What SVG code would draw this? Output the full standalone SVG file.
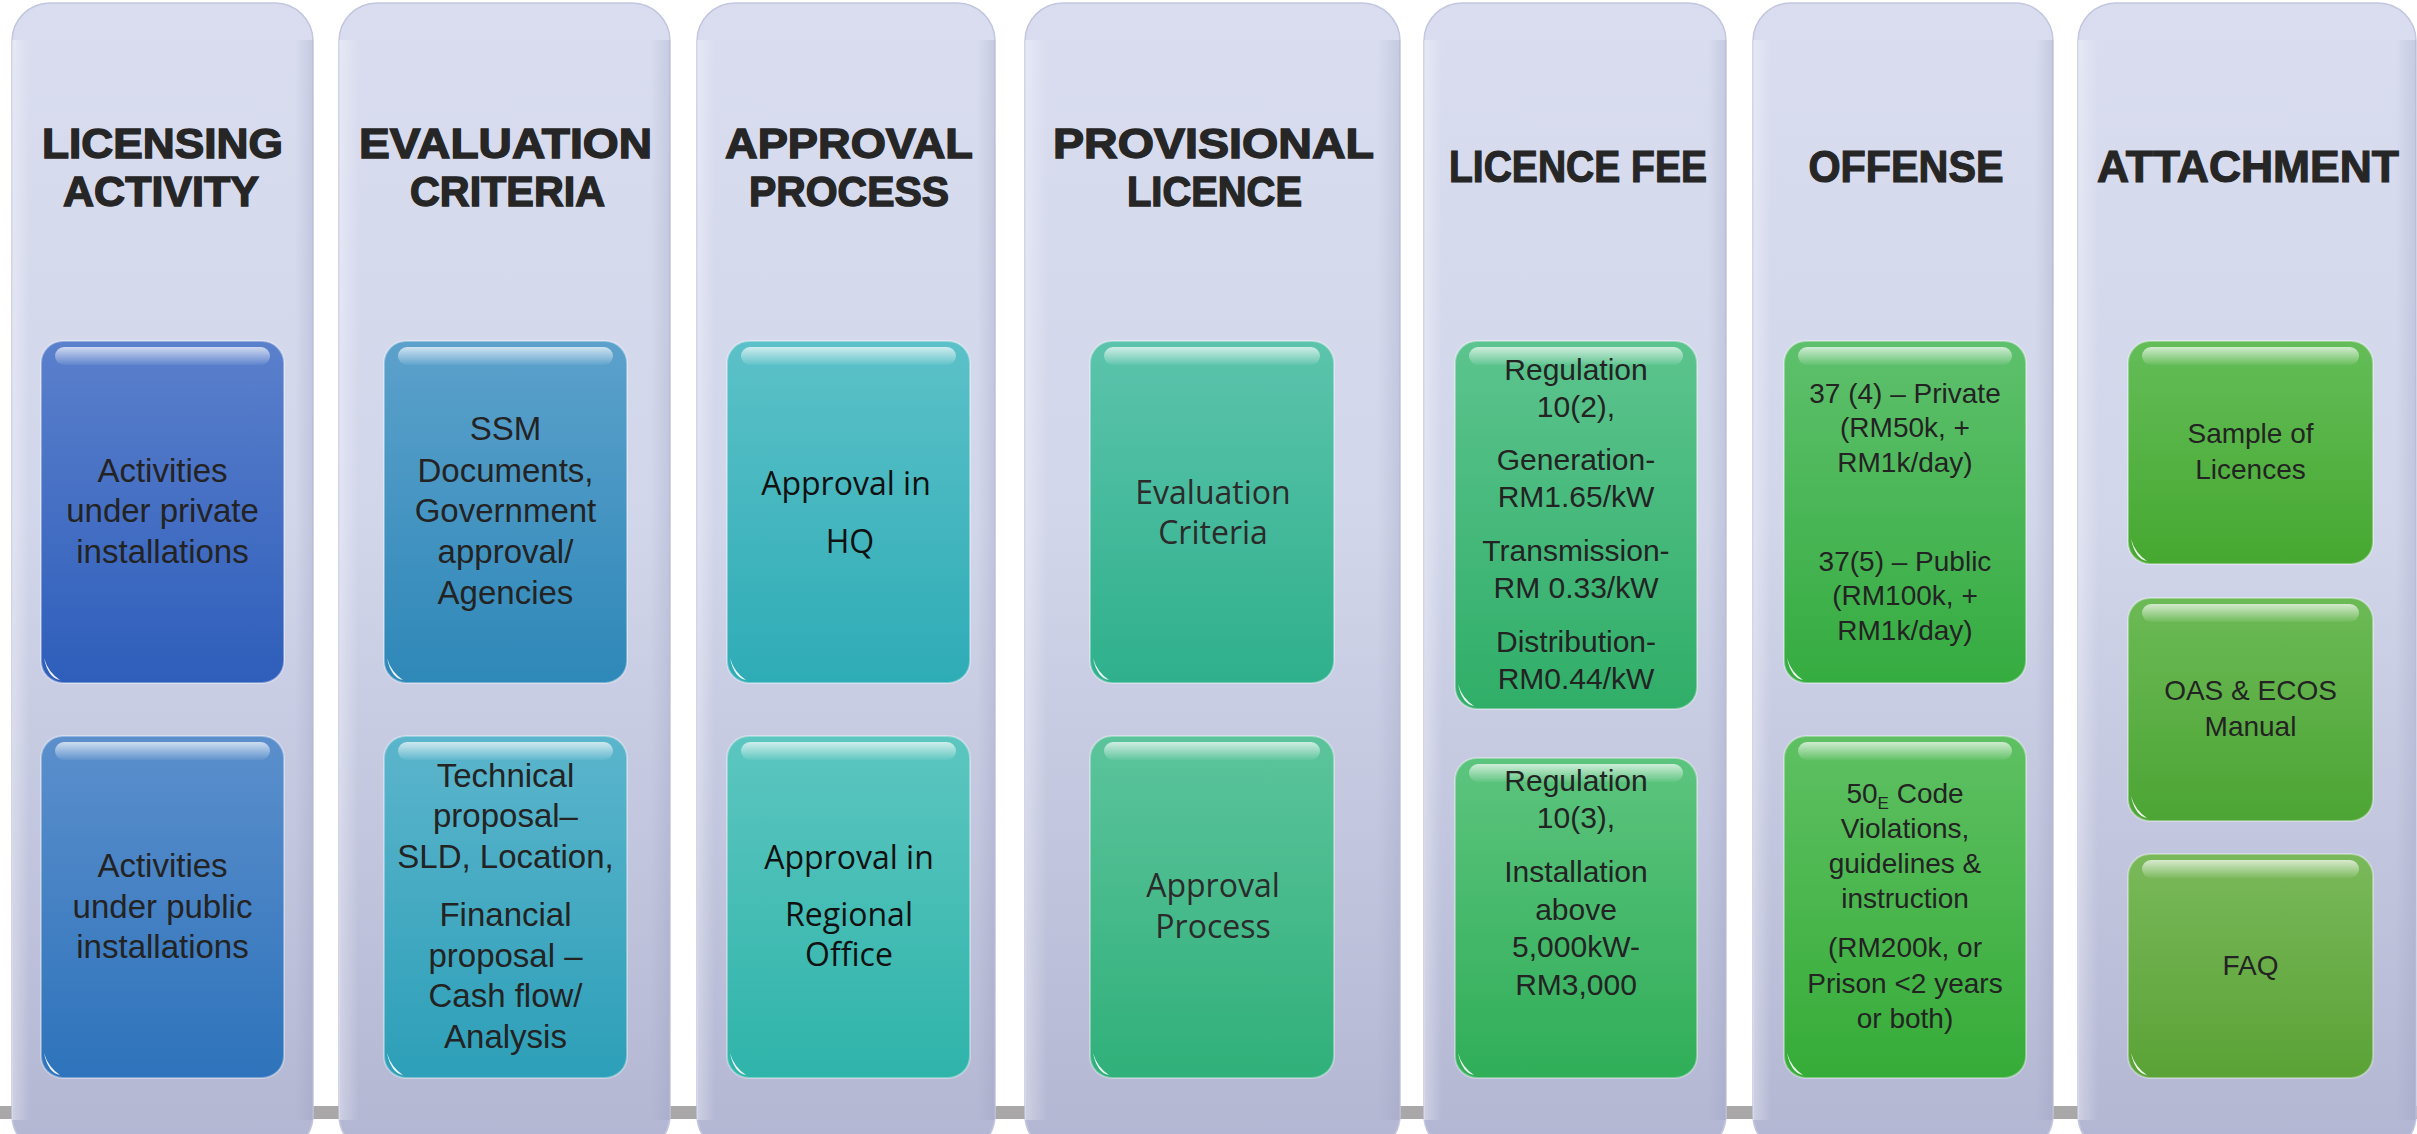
<svg xmlns="http://www.w3.org/2000/svg" width="2417" height="1134" viewBox="0 0 2417 1134">
<defs>
<linearGradient id="colg" x1="0" y1="0" x2="0" y2="1">
<stop offset="0" stop-color="#d9ddef"/><stop offset="0.45" stop-color="#d2d6ea"/><stop offset="1" stop-color="#b2b6d2"/>
</linearGradient>
<linearGradient id="colEdge" x1="0" y1="0" x2="1" y2="0">
<stop offset="0" stop-color="#ffffff" stop-opacity="0.35"/><stop offset="0.06" stop-color="#ffffff" stop-opacity="0"/><stop offset="0.94" stop-color="#8f93b5" stop-opacity="0"/><stop offset="1" stop-color="#8f93b5" stop-opacity="0.25"/>
</linearGradient>
<linearGradient id="gloss" x1="0" y1="0" x2="0" y2="1">
<stop offset="0" stop-color="#ffffff" stop-opacity="0.7"/><stop offset="1" stop-color="#ffffff" stop-opacity="0.05"/>
</linearGradient>
<linearGradient id="g11" x1="0" y1="0" x2="0" y2="1"><stop offset="0" stop-color="#5b80cc"/><stop offset="1" stop-color="#2e5ebb"/></linearGradient>
<linearGradient id="g12" x1="0" y1="0" x2="0" y2="1"><stop offset="0" stop-color="#5b8fcc"/><stop offset="1" stop-color="#2e73bb"/></linearGradient>
<linearGradient id="g21" x1="0" y1="0" x2="0" y2="1"><stop offset="0" stop-color="#5ca1cc"/><stop offset="1" stop-color="#2e88b8"/></linearGradient>
<linearGradient id="g22" x1="0" y1="0" x2="0" y2="1"><stop offset="0" stop-color="#5bb5cc"/><stop offset="1" stop-color="#2d9fb8"/></linearGradient>
<linearGradient id="g31" x1="0" y1="0" x2="0" y2="1"><stop offset="0" stop-color="#5cc1c8"/><stop offset="1" stop-color="#2eacb6"/></linearGradient>
<linearGradient id="g32" x1="0" y1="0" x2="0" y2="1"><stop offset="0" stop-color="#5cc6c0"/><stop offset="1" stop-color="#2fb4aa"/></linearGradient>
<linearGradient id="g41" x1="0" y1="0" x2="0" y2="1"><stop offset="0" stop-color="#5cc4ac"/><stop offset="1" stop-color="#2fb08c"/></linearGradient>
<linearGradient id="g42" x1="0" y1="0" x2="0" y2="1"><stop offset="0" stop-color="#5cc49c"/><stop offset="1" stop-color="#30b07a"/></linearGradient>
<linearGradient id="g51" x1="0" y1="0" x2="0" y2="1"><stop offset="0" stop-color="#5cc48e"/><stop offset="1" stop-color="#30ae68"/></linearGradient>
<linearGradient id="g52" x1="0" y1="0" x2="0" y2="1"><stop offset="0" stop-color="#5cc47e"/><stop offset="1" stop-color="#30ae58"/></linearGradient>
<linearGradient id="g61" x1="0" y1="0" x2="0" y2="1"><stop offset="0" stop-color="#5ec06c"/><stop offset="1" stop-color="#35ac40"/></linearGradient>
<linearGradient id="g62" x1="0" y1="0" x2="0" y2="1"><stop offset="0" stop-color="#5ec062"/><stop offset="1" stop-color="#36ac38"/></linearGradient>
<linearGradient id="g71" x1="0" y1="0" x2="0" y2="1"><stop offset="0" stop-color="#64bd58"/><stop offset="1" stop-color="#46a830"/></linearGradient>
<linearGradient id="g72" x1="0" y1="0" x2="0" y2="1"><stop offset="0" stop-color="#6cba56"/><stop offset="1" stop-color="#4ca534"/></linearGradient>
<linearGradient id="g73" x1="0" y1="0" x2="0" y2="1"><stop offset="0" stop-color="#7ab95a"/><stop offset="1" stop-color="#5aa236"/></linearGradient>
</defs>
<style>
.col{fill:url(#colg);stroke:#c3c7de;stroke-width:1.5}
.coledge{fill:url(#colEdge)}
.head{font-family:"Liberation Sans",Arial,sans-serif;font-weight:bold;font-size:42px;fill:#262626;stroke:#262626;stroke-width:1.4;text-anchor:middle}
.head1{font-family:"Liberation Sans",Arial,sans-serif;font-weight:bold;font-size:45px;fill:#262626;stroke:#262626;stroke-width:1.2;text-anchor:middle}
.box{stroke:#ffffff;stroke-opacity:0.35;stroke-width:2}
.gl{fill:url(#gloss)}
.spot{fill:#ffffff;opacity:0.9}
.t{font-family:"Liberation Sans",Arial,sans-serif;font-size:33px;fill:#232323;text-anchor:middle}
.t30{font-family:"Liberation Sans",Arial,sans-serif;font-size:30px;fill:#232323;text-anchor:middle}
.t28{font-family:"Liberation Sans",Arial,sans-serif;font-size:28px;fill:#232323;text-anchor:middle}
.s{font-family:"Open Sans","DejaVu Sans",sans-serif;font-size:32px;fill:#111111;text-anchor:middle}
.s2{font-family:"Open Sans","DejaVu Sans",sans-serif;font-size:32px;fill:#2b2b2b;text-anchor:middle}
</style>
<rect x="0" y="0" width="2417" height="1134" fill="#ffffff"/>
<rect x="0" y="1106" width="2417" height="13" fill="#a9a7a7"/>

<g id="columns">
<g id="col-licensing"><rect class="col" x="12" y="3" width="301" height="1150" rx="38"/><rect class="coledge" x="12" y="40" width="301" height="1080"/><text class="head" x="162.5" y="158" textLength="241" lengthAdjust="spacingAndGlyphs">LICENSING</text><text class="head" x="161" y="206" textLength="196" lengthAdjust="spacingAndGlyphs">ACTIVITY</text></g>
<g id="col-evaluation"><rect class="col" x="339" y="3" width="331" height="1150" rx="38"/><rect class="coledge" x="339" y="40" width="331" height="1080"/><text class="head" x="505.5" y="158" textLength="293" lengthAdjust="spacingAndGlyphs">EVALUATION</text><text class="head" x="507.5" y="206" textLength="195" lengthAdjust="spacingAndGlyphs">CRITERIA</text></g>
<g id="col-approval"><rect class="col" x="697" y="3" width="298" height="1150" rx="38"/><rect class="coledge" x="697" y="40" width="298" height="1080"/><text class="head" x="849" y="158" textLength="248" lengthAdjust="spacingAndGlyphs">APPROVAL</text><text class="head" x="849" y="206" textLength="200" lengthAdjust="spacingAndGlyphs">PROCESS</text></g>
<g id="col-provisional"><rect class="col" x="1025" y="3" width="375" height="1150" rx="38"/><rect class="coledge" x="1025" y="40" width="375" height="1080"/><text class="head" x="1213.5" y="158" textLength="321" lengthAdjust="spacingAndGlyphs">PROVISIONAL</text><text class="head" x="1214.5" y="206" textLength="175" lengthAdjust="spacingAndGlyphs">LICENCE</text></g>
<g id="col-fee"><rect class="col" x="1424" y="3" width="302" height="1150" rx="38"/><rect class="coledge" x="1424" y="40" width="302" height="1080"/><text class="head1" x="1578" y="182" textLength="258" lengthAdjust="spacingAndGlyphs">LICENCE FEE</text></g>
<g id="col-offense"><rect class="col" x="1753" y="3" width="300" height="1150" rx="38"/><rect class="coledge" x="1753" y="40" width="300" height="1080"/><text class="head1" x="1906" y="182" textLength="195" lengthAdjust="spacingAndGlyphs">OFFENSE</text></g>
<g id="col-attachment"><rect class="col" x="2078" y="3" width="338" height="1150" rx="38"/><rect class="coledge" x="2078" y="40" width="338" height="1080"/><text class="head1" x="2248" y="182" textLength="302" lengthAdjust="spacingAndGlyphs">ATTACHMENT</text></g>
</g>

<g id="connectors"></g>

<g id="nodes">
<g id="n-private">
<rect class="box" x="41" y="341" width="243" height="342" rx="22" fill="url(#g11)"/>
<rect class="gl" x="55" y="347" width="215" height="18" rx="9"/>
<path class="spot" d="M44 658 q4 14 16 22 q-12 -2 -16 -22z"/>
<text class="t" x="162.5" y="482">Activities</text><text class="t" x="162.5" y="522">under private</text><text class="t" x="162.5" y="563">installations</text>
</g>
<g id="n-public">
<rect class="box" x="41" y="736" width="243" height="342" rx="22" fill="url(#g12)"/>
<rect class="gl" x="55" y="742" width="215" height="18" rx="9"/>
<path class="spot" d="M44 1053 q4 14 16 22 q-12 -2 -16 -22z"/>
<text class="t" x="162.5" y="877">Activities</text><text class="t" x="162.5" y="918">under public</text><text class="t" x="162.5" y="958">installations</text>
</g>
<g id="n-ssm">
<rect class="box" x="384" y="341" width="243" height="342" rx="22" fill="url(#g21)"/>
<rect class="gl" x="398" y="347" width="215" height="18" rx="9"/>
<path class="spot" d="M387 658 q4 14 16 22 q-12 -2 -16 -22z"/>
<text class="t" x="505.5" y="440">SSM</text><text class="t" x="505.5" y="482">Documents,</text><text class="t" x="505.5" y="522">Government</text><text class="t" x="505.5" y="563">approval/</text><text class="t" x="505.5" y="604">Agencies</text>
</g>
<g id="n-technical">
<rect class="box" x="384" y="736" width="243" height="342" rx="22" fill="url(#g22)"/>
<rect class="gl" x="398" y="742" width="215" height="18" rx="9"/>
<path class="spot" d="M387 1053 q4 14 16 22 q-12 -2 -16 -22z"/>
<text class="t" x="505.5" y="787">Technical</text><text class="t" x="505.5" y="827">proposal–</text><text class="t" x="505.5" y="868">SLD, Location,</text><text class="t" x="505.5" y="926">Financial</text><text class="t" x="505.5" y="967">proposal –</text><text class="t" x="505.5" y="1007">Cash flow/</text><text class="t" x="505.5" y="1048">Analysis</text>
</g>
<g id="n-hq">
<rect class="box" x="727" y="341" width="243" height="342" rx="22" fill="url(#g31)"/>
<rect class="gl" x="741" y="347" width="215" height="18" rx="9"/>
<path class="spot" d="M730 658 q4 14 16 22 q-12 -2 -16 -22z"/>
<text class="s" x="846" y="495">Approval in</text><text class="s" x="850" y="553">HQ</text>
</g>
<g id="n-regional">
<rect class="box" x="727" y="736" width="243" height="342" rx="22" fill="url(#g32)"/>
<rect class="gl" x="741" y="742" width="215" height="18" rx="9"/>
<path class="spot" d="M730 1053 q4 14 16 22 q-12 -2 -16 -22z"/>
<text class="s" x="849" y="869">Approval in</text><text class="s" x="849" y="926">Regional</text><text class="s" x="849" y="966">Office</text>
</g>
<g id="n-evalcrit">
<rect class="box" x="1090" y="341" width="244" height="342" rx="22" fill="url(#g41)"/>
<rect class="gl" x="1104" y="347" width="216" height="18" rx="9"/>
<path class="spot" d="M1093 658 q4 14 16 22 q-12 -2 -16 -22z"/>
<text class="s2" x="1213" y="504">Evaluation</text><text class="s2" x="1213" y="544">Criteria</text>
</g>
<g id="n-approvalproc">
<rect class="box" x="1090" y="736" width="244" height="342" rx="22" fill="url(#g42)"/>
<rect class="gl" x="1104" y="742" width="216" height="18" rx="9"/>
<path class="spot" d="M1093 1053 q4 14 16 22 q-12 -2 -16 -22z"/>
<text class="s2" x="1213" y="897">Approval</text><text class="s2" x="1213" y="938">Process</text>
</g>
<g id="n-reg102">
<rect class="box" x="1455" y="341" width="242" height="368" rx="22" fill="url(#g51)"/>
<rect class="gl" x="1469" y="347" width="214" height="18" rx="9"/>
<path class="spot" d="M1458 684 q4 14 16 22 q-12 -2 -16 -22z"/>
<text class="t30" x="1576" y="380">Regulation</text><text class="t30" x="1576" y="417">10(2),</text><text class="t30" x="1576" y="470">Generation-</text><text class="t30" x="1576" y="507">RM1.65/kW</text><text class="t30" x="1576" y="561">Transmission-</text><text class="t30" x="1576" y="598">RM 0.33/kW</text><text class="t30" x="1576" y="652">Distribution-</text><text class="t30" x="1576" y="689">RM0.44/kW</text>
</g>
<g id="n-reg103">
<rect class="box" x="1455" y="758" width="242" height="320" rx="22" fill="url(#g52)"/>
<rect class="gl" x="1469" y="764" width="214" height="18" rx="9"/>
<path class="spot" d="M1458 1053 q4 14 16 22 q-12 -2 -16 -22z"/>
<text class="t30" x="1576" y="791">Regulation</text><text class="t30" x="1576" y="828">10(3),</text><text class="t30" x="1576" y="882">Installation</text><text class="t30" x="1576" y="920">above</text><text class="t30" x="1576" y="957">5,000kW-</text><text class="t30" x="1576" y="995">RM3,000</text>
</g>
<g id="n-offense37">
<rect class="box" x="1784" y="341" width="242" height="342" rx="22" fill="url(#g61)"/>
<rect class="gl" x="1798" y="347" width="214" height="18" rx="9"/>
<path class="spot" d="M1787 658 q4 14 16 22 q-12 -2 -16 -22z"/>
<text class="t28" x="1905" y="403">37 (4) – Private</text><text class="t28" x="1905" y="437">(RM50k, +</text><text class="t28" x="1905" y="472">RM1k/day)</text><text class="t28" x="1905" y="571">37(5) – Public</text><text class="t28" x="1905" y="605">(RM100k, +</text><text class="t28" x="1905" y="640">RM1k/day)</text>
</g>
<g id="n-offense50">
<rect class="box" x="1784" y="736" width="242" height="342" rx="22" fill="url(#g62)"/>
<rect class="gl" x="1798" y="742" width="214" height="18" rx="9"/>
<path class="spot" d="M1787 1053 q4 14 16 22 q-12 -2 -16 -22z"/>
<text class="t28" x="1905" y="803">50<tspan font-size="17" dy="6">E</tspan><tspan dy="-6"> Code</tspan></text><text class="t28" x="1905" y="838">Violations,</text><text class="t28" x="1905" y="873">guidelines &amp;</text><text class="t28" x="1905" y="908">instruction</text><text class="t28" x="1905" y="957">(RM200k, or</text><text class="t28" x="1905" y="993">Prison &lt;2 years</text><text class="t28" x="1905" y="1028">or both)</text>
</g>
<g id="n-sample">
<rect class="box" x="2128" y="341" width="245" height="223" rx="22" fill="url(#g71)"/>
<rect class="gl" x="2142" y="347" width="217" height="18" rx="9"/>
<path class="spot" d="M2131 539 q4 14 16 22 q-12 -2 -16 -22z"/>
<text class="t28" x="2250.5" y="443">Sample of</text><text class="t28" x="2250.5" y="479">Licences</text>
</g>
<g id="n-oas">
<rect class="box" x="2128" y="598" width="245" height="223" rx="22" fill="url(#g72)"/>
<rect class="gl" x="2142" y="604" width="217" height="18" rx="9"/>
<path class="spot" d="M2131 796 q4 14 16 22 q-12 -2 -16 -22z"/>
<text class="t28" x="2250.5" y="700">OAS &amp; ECOS</text><text class="t28" x="2250.5" y="736">Manual</text>
</g>
<g id="n-faq">
<rect class="box" x="2128" y="854" width="245" height="224" rx="22" fill="url(#g73)"/>
<rect class="gl" x="2142" y="860" width="217" height="18" rx="9"/>
<path class="spot" d="M2131 1053 q4 14 16 22 q-12 -2 -16 -22z"/>
<text class="t28" x="2250.5" y="975">FAQ</text>
</g>
</g>
</svg>
